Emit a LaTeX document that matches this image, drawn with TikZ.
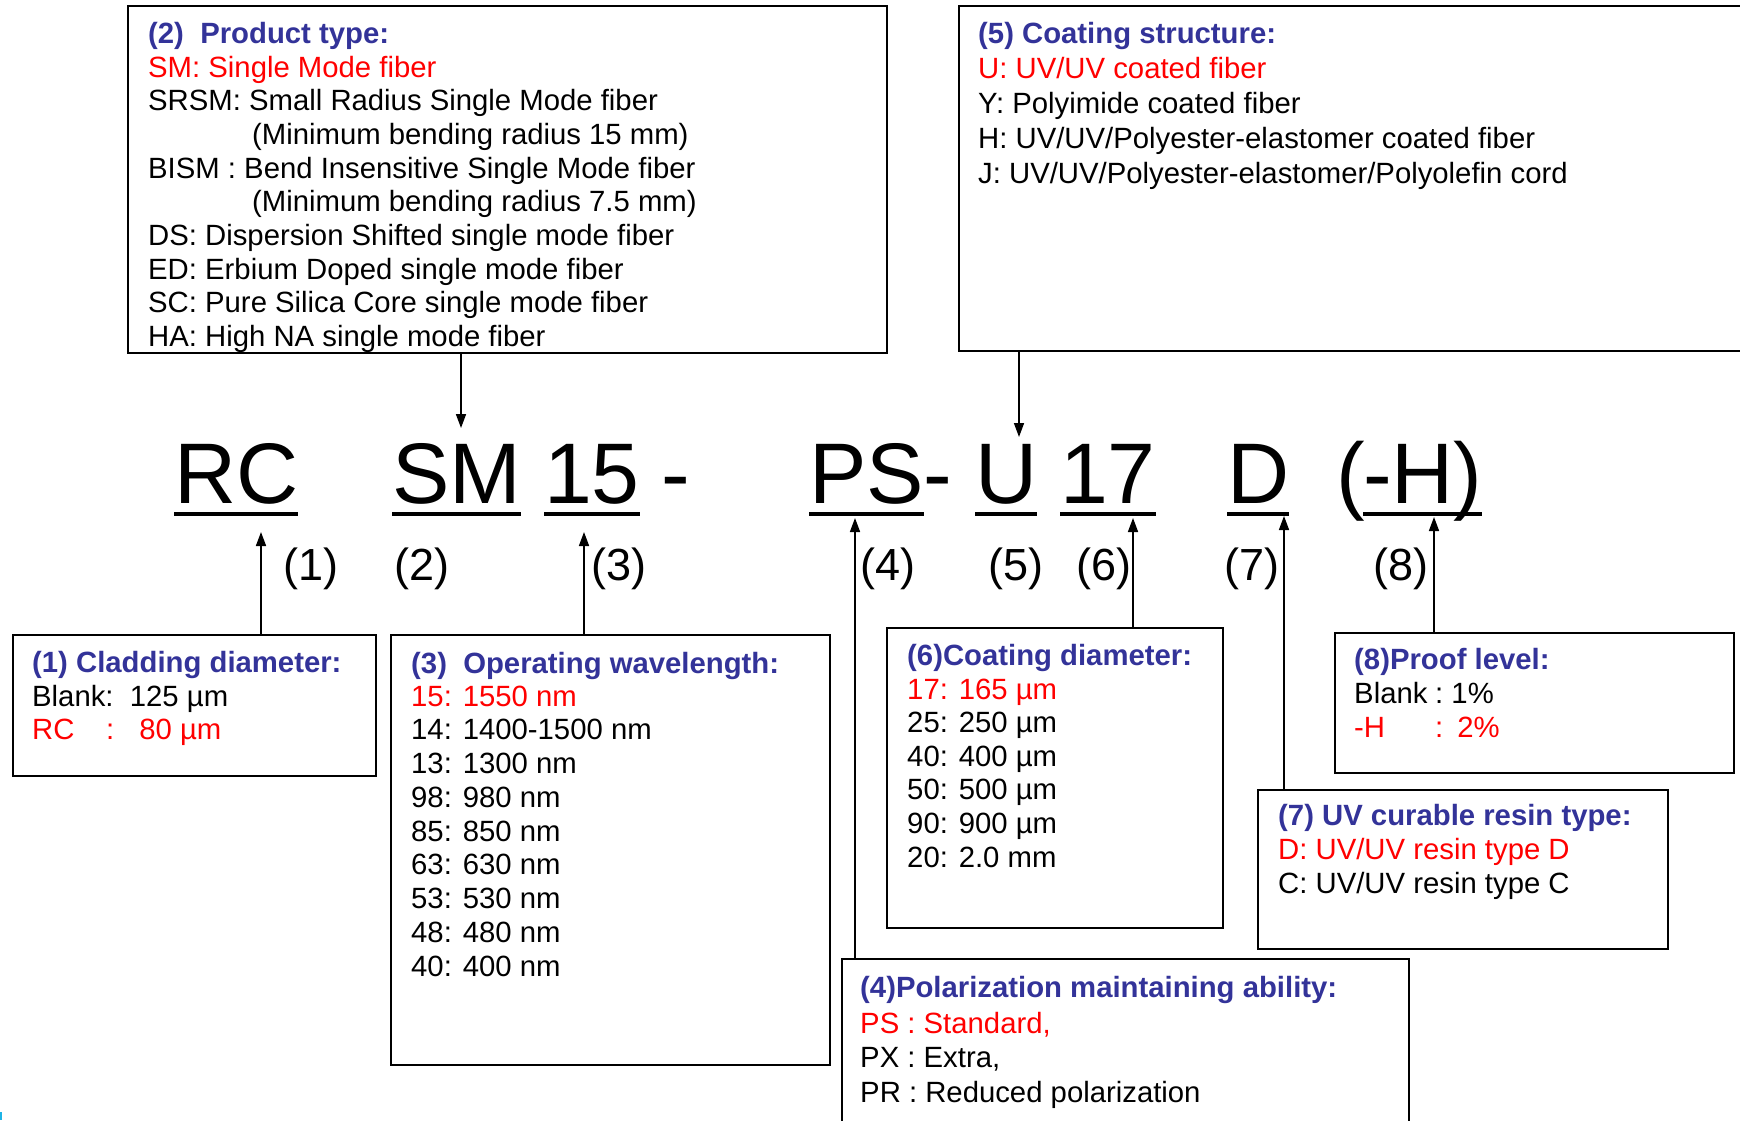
\documentclass[tikz,border=0pt]{standalone}
\usepackage{fontspec}
\setmainfont{Liberation Sans}
\usetikzlibrary{arrows.meta}
\definecolor{headblue}{RGB}{51,51,153}
\definecolor{codered}{RGB}{255,0,0}
\definecolor{marker}{RGB}{30,180,230}

\begin{document}
\begin{tikzpicture}[x=1pt,y=-1pt,
    box/.style={draw=black,line width=2pt,anchor=north west,inner sep=0pt,outer sep=0pt},
    entry/.style={anchor=base west,inner sep=0pt,font=\fontsize{29.3}{34}\selectfont},
    heading/.style={entry,font=\fontsize{29.3}{34}\selectfont\bfseries,text=headblue},
    chosen/.style={entry,text=codered},
    code/.style={anchor=base west,inner sep=0pt,outer sep=0pt,font=\fontsize{86}{90}\selectfont},
    tag/.style={anchor=base,inner sep=0pt,font=\fontsize{45}{50}\selectfont},
    uline/.style={line width=4.5pt},
    arr/.style={line width=1.6pt,-{Triangle[length=14pt,width=10pt]}}]
    \useasboundingbox (0,0) rectangle (1740,1120);
    \clip (0,0) rectangle (1740,1120);
    % Part code
    \node[code] (rc) at (174,503) {RC};
    \node[code] (sm) at (392,503) {SM};
    \node[code] (wl) at (544,503) {15};
    \node[code] (dash1) at (661,503) {-};
    \node[code] (ps) at (809,503) {PS};
    \node[code] (dash2) at (ps.base east) {-};
    \node[code] (ct) at (975,503) {U};
    \node[code] (cd) at (1060,503) {17};
    \node[code] (rs) at (1227,503) {D};
    \node[code] (lpar) at (1336,503) {(};
    \node[code] (pl) at (1363,503) {-H)};
    \foreach \n in {rc,sm,wl,ps,ct,cd,rs,pl}
        \draw[uline] ([yshift=-11pt]\n.base west) -- ([yshift=-11pt]\n.base east);
    \foreach \x [count=\i] in {311,422,619,888,1016,1104,1252,1401}
        \node[tag] (n\i) at (\x,580) {(\i)};
    % Boxes
    \node[box,minimum width=363pt,minimum height=141pt] (box1) at (13,635) {};
    \node[box,minimum width=759pt,minimum height=347pt] (box2) at (128,6) {};
    \node[box,minimum width=439pt,minimum height=430pt] (box3) at (391,635) {};
    \node[box,minimum width=567pt,minimum height=200pt] (box4) at (842,959) {};
    \node[box,minimum width=800pt,minimum height=345pt] (box5) at (959,6) {};
    \node[box,minimum width=336pt,minimum height=300pt] (box6) at (887,628) {};
    \node[box,minimum width=410pt,minimum height=159pt] (box7) at (1258,790) {};
    \node[box,minimum width=399pt,minimum height=140pt] (box8) at (1335,633) {};
    % (1) Cladding diameter
    \node[heading] (h1) at (32,672) {(1) Cladding diameter:};
    \node[entry] (e1-1) at (32,706) {Blank:\ \ 125 µm};
    \node[chosen] (e1-2) at (32,739) {\makebox[74pt][l]{RC}:\hspace{25pt}80 µm};
    % (2) Product type
    \node[heading] (h2) at (148,43) {(2)\ \ Product type:};
    \node[chosen] (s2) at (148,77) {SM: Single Mode fiber};
    \foreach \t [count=\i] in {SRSM: Small Radius Single Mode fiber,
        \hspace*{104pt}(Minimum bending radius 15 mm),
        BISM : Bend Insensitive Single Mode fiber,
        \hspace*{104pt}(Minimum bending radius 7.5 mm),
        DS: Dispersion Shifted single mode fiber,
        ED: Erbium Doped single mode fiber,
        SC: Pure Silica Core single mode fiber,
        HA: High NA single mode fiber}
        \node[entry] (e2-\i) at (148,77+33.7*\i) {\t};
    % (3) Operating wavelength
    \node[heading] (h3) at (411,673) {(3)\ \ Operating wavelength:};
    \node[chosen] (s3) at (411,706) {15: 1550 nm};
    \foreach \t [count=\i] in {14: 1400-1500 nm,13: 1300 nm,98: 980 nm,85: 850 nm,
        63: 630 nm,53: 530 nm,48: 480 nm,40: 400 nm}
        \node[entry] (e3-\i) at (411,706+33.75*\i) {\t};
    % (4) Polarization maintaining ability
    \node[heading] (h4) at (860,997) {(4)Polarization maintaining ability:};
    \node[chosen] (s4) at (860,1033) {PS : Standard,};
    \foreach \t [count=\i] in {{PX : Extra,},{PR : Reduced polarization}}
        \node[entry] (e4-\i) at (860,1033+34.5*\i) {\t};
    % (5) Coating structure
    \node[heading] (h5) at (978,43) {(5) Coating structure:};
    \node[chosen] (s5) at (978,78) {U: UV/UV coated fiber};
    \foreach \t [count=\i] in {Y: Polyimide coated fiber,
        H: UV/UV/Polyester-elastomer coated fiber,
        J: UV/UV/Polyester-elastomer/Polyolefin cord}
        \node[entry] (e5-\i) at (978,78+35.3*\i) {\t};
    % (6) Coating diameter
    \node[heading] (h6) at (907,665) {(6)Coating diameter:};
    \node[chosen] (s6) at (907,699) {17: 165 µm};
    \foreach \t [count=\i] in {25: 250 µm,40: 400 µm,50: 500 µm,90: 900 µm,20: 2.0 mm}
        \node[entry] (e6-\i) at (907,699+33.6*\i) {\t};
    % (7) UV curable resin type
    \node[heading] (h7) at (1278,825) {(7) UV curable resin type:};
    \node[chosen] (s7) at (1278,859) {D: UV/UV resin type D};
    \node[entry] (e7-1) at (1278,893) {C: UV/UV resin type C};
    % (8) Proof level
    \node[heading] (h8) at (1354,669) {(8)Proof level:};
    \node[entry] (e8-1) at (1354,703) {\makebox[81pt][l]{Blank}:\ 1\%};
    \node[chosen] (e8-2) at (1354,737) {\makebox[81pt][l]{-H}:\hspace{14pt}2\%};
    % Arrows
    \coordinate (t1) at (261,532);
    \coordinate (t2) at (461,428);
    \coordinate (t3) at (584,532);
    \coordinate (t4) at (855,518);
    \coordinate (t5) at (1019,437);
    \coordinate (t6) at (1133,518);
    \coordinate (t7) at (1284,516);
    \coordinate (t8) at (1434,517);
    \draw[arr] (box1.north -| t1) -- (t1);
    \draw[arr] (box2.south -| t2) -- (t2);
    \draw[arr] (box3.north -| t3) -- (t3);
    \draw[arr] (box4.north -| t4) -- (t4);
    \draw[arr] (box5.south -| t5) -- (t5);
    \draw[arr] (box6.north -| t6) -- (t6);
    \draw[arr] (box7.north -| t7) -- (t7);
    \draw[arr] (box8.north -| t8) -- (t8);
    \fill[marker] (0,1112) rectangle (2,1120);
\end{tikzpicture}
\end{document}
